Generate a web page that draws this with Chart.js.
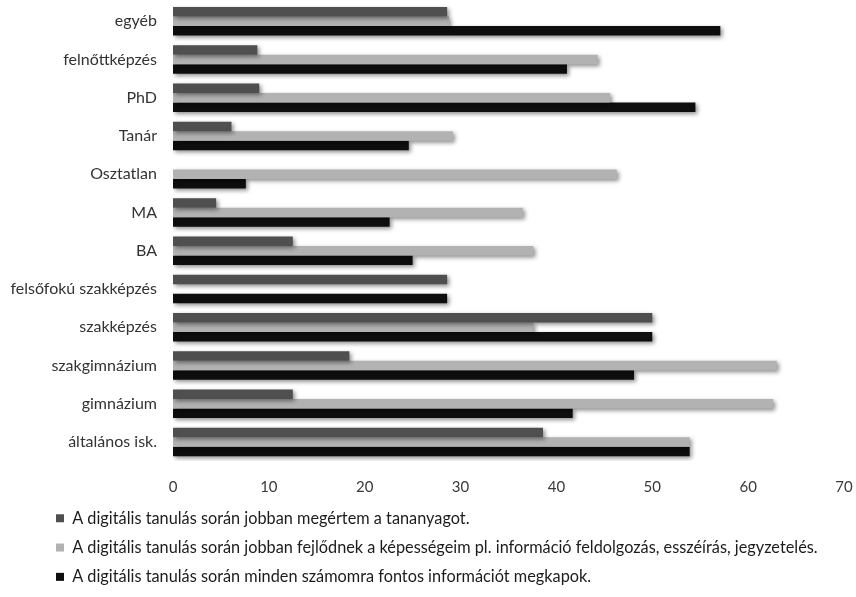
<!DOCTYPE html>
<html lang="hu">
<head>
<meta charset="utf-8">
<script src="https://cdn.jsdelivr.net/npm/chart.js@4.4.1/dist/chart.umd.min.js"></script>
<style>
  html, body { margin: 0; padding: 0; background: #ffffff; }
  #wrap { width: 856px; height: 597px; position: relative; }
</style>
</head>
<body>
<div id="wrap"><canvas id="chart"></canvas></div>
<script>
// Képzési szintek (felülről lefelé)
const categories = [
  'egyéb', 'felnőttképzés', 'PhD', 'Tanár', 'Osztatlan', 'MA', 'BA',
  'felsőfokú szakképzés', 'szakképzés', 'szakgimnázium', 'gimnázium', 'általános isk.'
];

const seriesNames = [
  'A digitális tanulás során jobban megértem a tananyagot.',
  'A digitális tanulás során jobban fejlődnek a képességeim pl. információ feldolgozás, esszéírás, jegyzetelés.',
  'A digitális tanulás során minden számomra fontos információt megkapok.'
];

const megertem = [28.6, 8.8, 9.0, 6.1, 0, 4.5, 12.5, 28.6, 50.0, 18.4, 12.5, 38.6];
const kepessegek = [28.8, 44.3, 45.6, 29.2, 46.3, 36.5, 37.6, 0, 37.6, 63.0, 62.6, 53.9];
const informacio = [57.1, 41.1, 54.5, 24.6, 7.6, 22.6, 25.0, 28.6, 50.0, 48.1, 41.7, 53.9];

const xTicks = [0, 10, 20, 30, 40, 50, 60, 70];

const colors = ['#4f4f4f', '#b2b2b2', '#0e0e0e'];

// Soft drop shadow under the bars
const barShadow = {
  id: 'barShadow',
  beforeDatasetsDraw(chart) {
    const ctx = chart.ctx;
    ctx.save();
    ctx.shadowColor = 'rgba(0,0,0,0.45)';
    ctx.shadowBlur = 4;
    ctx.shadowOffsetX = 2;
    ctx.shadowOffsetY = 2;
  },
  afterDatasetsDraw(chart) {
    chart.ctx.restore();
  }
};

// Indent the legend block to the right
const legendIndent = {
  id: 'legendIndent',
  afterLayout(chart) {
    if (chart.legend) chart.legend.left += 43;
  }
};

const FONT = "Lato, 'Open Sans', sans-serif";

new Chart(document.getElementById('chart'), {
  type: 'bar',
  data: {
    labels: categories,
    datasets: [megertem, kepessegek, informacio].map((d, i) => ({
      label: seriesNames[i],
      data: d,
      backgroundColor: colors[i],
      borderWidth: 0,
      categoryPercentage: 0.745,
      barPercentage: 1.0
    }))
  },
  options: {
    indexAxis: 'y',
    responsive: true,
    maintainAspectRatio: false,
    animation: false,
    layout: { padding: { top: 2, left: 0, right: 12, bottom: 2 } },
    plugins: {
      tooltip: { enabled: false },
      legend: {
        position: 'bottom',
        align: 'start',
        labels: {
          boxWidth: 8,
          boxHeight: 8,
          padding: 13,
          color: '#1c1c1c',
          font: { family: FONT, size: 16.3 }
        }
      }
    },
    scales: {
      x: {
        min: 0,
        max: 70,
        afterBuildTicks(scale) {
          scale.ticks = xTicks.map(v => ({ value: v }));
        },
        afterFit(scale) {
          scale.height = 36;
          scale.paddingLeft = 0;
          scale.paddingRight = 0;
        },
        grid: { display: false, drawTicks: false },
        border: { display: false },
        ticks: {
          padding: 17,
          color: '#3a3a3a',
          font: { family: FONT, size: 15 }
        }
      },
      y: {
        afterFit(scale) {
          scale.width = 173;
          scale.paddingTop = 0;
          scale.paddingBottom = 0;
        },
        grid: { display: false, drawTicks: false },
        border: { display: false },
        ticks: {
          padding: 16,
          color: '#333333',
          font: { family: FONT, size: 16 }
        }
      }
    }
  },
  plugins: [barShadow, legendIndent]
});
</script>
</body>
</html>
